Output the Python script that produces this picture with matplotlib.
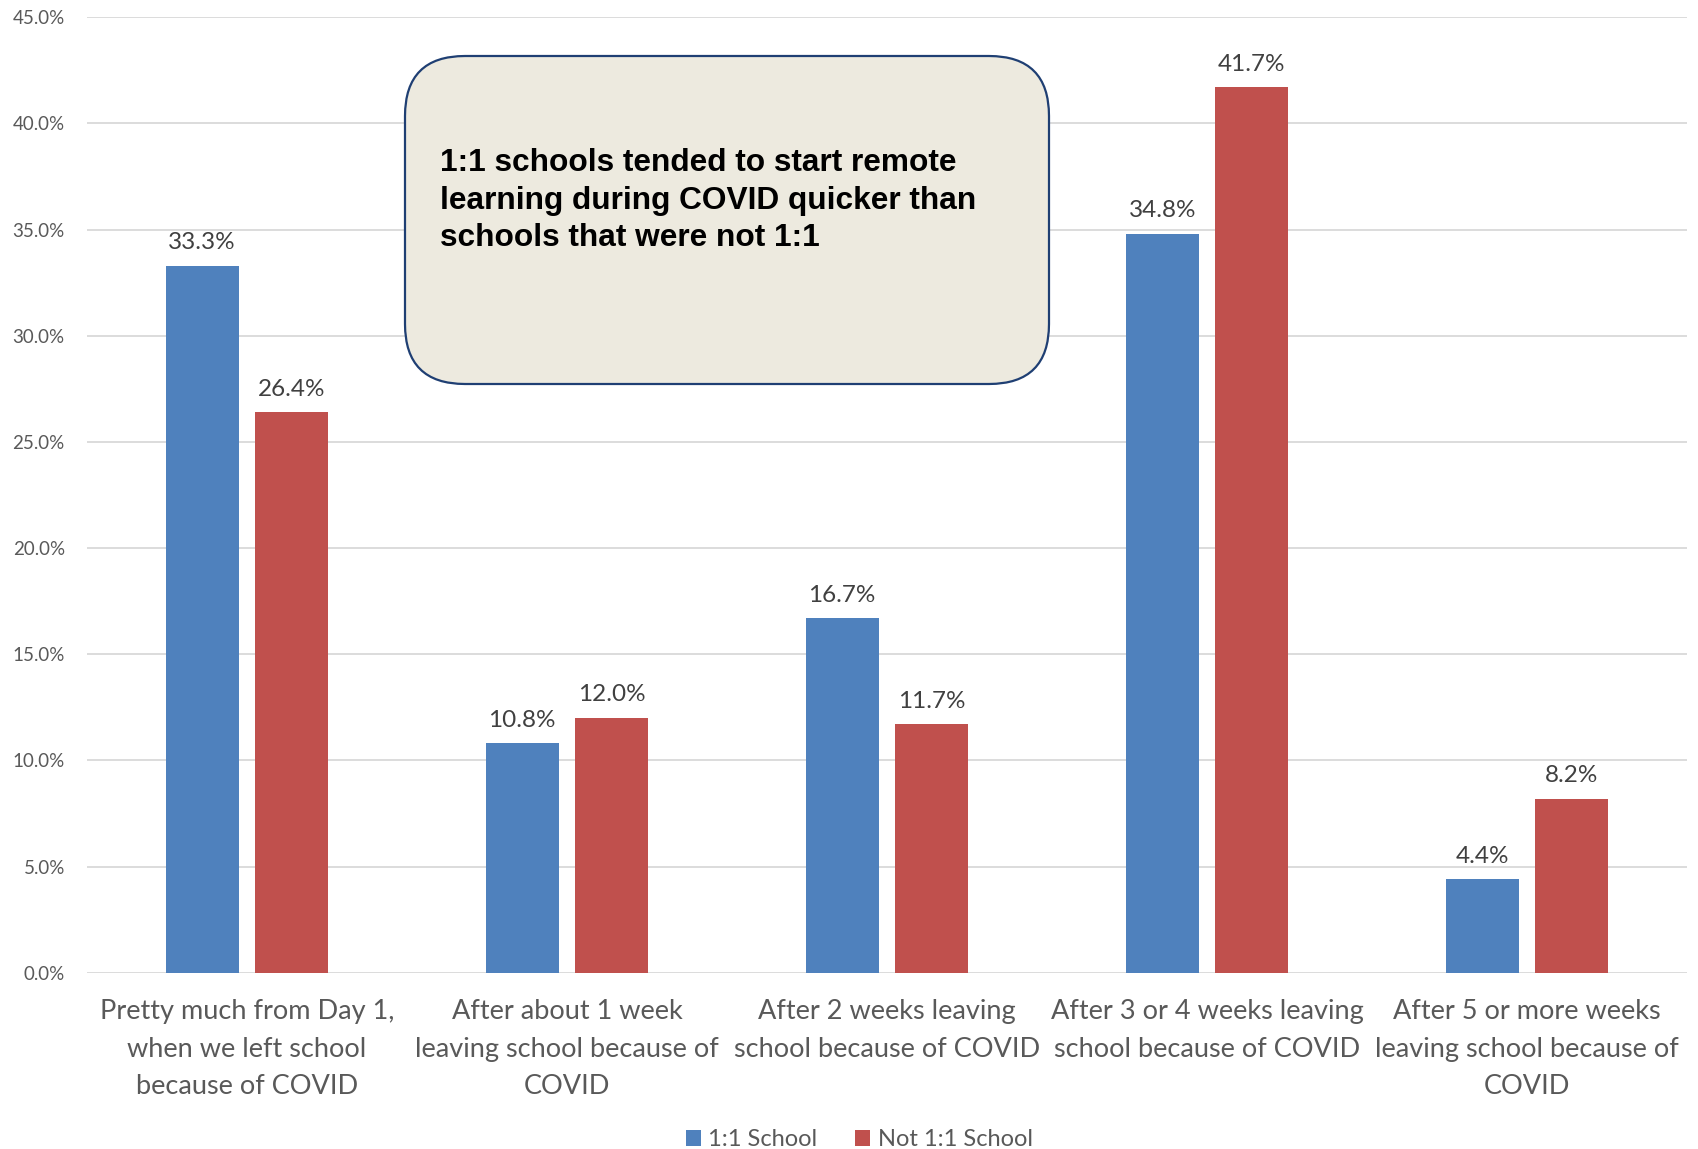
import matplotlib
matplotlib.use("Agg")
import matplotlib.pyplot as plt
from matplotlib.patches import FancyBboxPatch, Patch
import numpy as np

categories = [
    "Pretty much from Day 1,\nwhen we left school\nbecause of COVID",
    "After about 1 week\nleaving school because of\nCOVID",
    "After 2 weeks leaving\nschool because of COVID",
    "After 3 or 4 weeks leaving\nschool because of COVID",
    "After 5 or more weeks\nleaving school because of\nCOVID",
]
one_to_one = [33.3, 10.8, 16.7, 34.8, 4.4]
not_one_to_one = [26.4, 12.0, 11.7, 41.7, 8.2]
series_names = ["1:1 School", "Not 1:1 School"]
yticks = [0, 5, 10, 15, 20, 25, 30, 35, 40, 45]
note = "1:1 schools tended to start remote\nlearning during COVID quicker than\nschools that were not 1:1"

BLUE = "#4F81BD"
RED = "#C0504D"
TXT = "#595959"
FONT = ["Lato", "DejaVu Sans"]

fig = plt.figure(figsize=(16.98, 11.49), dpi=100)
ax = fig.add_axes([87/1698, 1-972.7/1149, 1600/1698, (972.7-17.3)/1149])

x = np.arange(len(categories))
w = 0.228
off = 0.14
b1 = ax.bar(x - off, one_to_one, w, color=BLUE, zorder=3)
b2 = ax.bar(x + off, not_one_to_one, w, color=RED, zorder=3)

for bars, vals in ((b1, one_to_one), (b2, not_one_to_one)):
    for rect, v in zip(bars, vals):
        ax.annotate(f"{v:.1f}%", (rect.get_x() + rect.get_width()/2, v),
                    xytext=(0, 9), textcoords="offset points",
                    ha="center", va="bottom", fontsize=17.5, color="#404040",
                    family=FONT)

ax.set_xlim(-0.5, len(categories) - 0.5)
ax.set_ylim(0, 45)
ax.set_yticks(yticks)
ax.set_yticklabels([f"{t:.1f}%" for t in yticks], family=FONT, fontsize=13.5, color=TXT)
ax.set_xticks(x)
ax.set_xticklabels(categories, family=FONT, fontsize=19.5, color=TXT, linespacing=1.63)
ax.tick_params(axis="both", length=0)
ax.tick_params(axis="y", pad=16)
ax.tick_params(axis="x", pad=19)
ax.grid(axis="y", color="#D9D9D9", linewidth=1.3, zorder=0)
for s in ax.spines.values():
    s.set_visible(False)

# annotation box
box = FancyBboxPatch((4.05, 7.65), 6.44, 3.28,
                     boxstyle="round,pad=0,rounding_size=0.6",
                     transform=fig.dpi_scale_trans, facecolor="#EDEADF",
                     edgecolor="#1F3F73", linewidth=1.6, zorder=10)
fig.patches.append(box)
fig.text(440/1698, 1-148/1149, note, family=["Liberation Sans", "DejaVu Sans"],
         fontweight="bold", fontsize=22.8, color="black", ha="left", va="top",
         linespacing=1.33, zorder=11)

handles = [Patch(facecolor=BLUE), Patch(facecolor=RED)]
leg = fig.legend(handles, series_names, loc="center", bbox_to_anchor=(0.506, 1-1140/1149),
                 ncol=2, frameon=False, prop={"family": FONT, "size": 17},
                 handlelength=0.65, handleheight=0.65, handletextpad=0.3, columnspacing=1.6)
for t in leg.get_texts():
    t.set_color(TXT)

fig.savefig("out.png", dpi=100)
